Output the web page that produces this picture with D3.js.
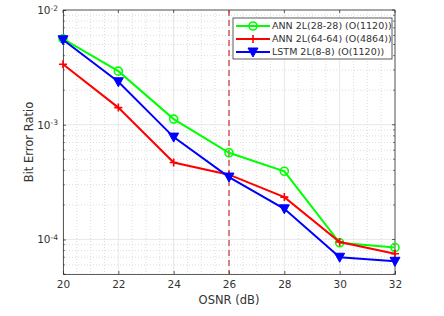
<!DOCTYPE html>
<html>
<head>
<meta charset="utf-8">
<script src="https://cdn.jsdelivr.net/npm/d3@7"></script>
<style>
  body { margin: 0; background: #fff; }
  text { font-family: "DejaVu Sans", sans-serif; fill: #333; }
</style>
</head>
<body>
<script>
// --- data ---
const osnr = [20, 22, 24, 26, 28, 30, 32];
const annSmall = [5.6e-3, 2.93e-3, 1.12e-3, 5.7e-4, 3.93e-4, 9.35e-5, 8.5e-5];
const annLarge = [3.37e-3, 1.41e-3, 4.68e-4, 3.67e-4, 2.34e-4, 9.5e-5, 7.5e-5];
const lstm     = [5.5e-3, 2.37e-3, 7.8e-4, 3.5e-4, 1.85e-4, 7.0e-5, 6.45e-5];
const seriesNames = ["ANN 2L(28-28) (O(1120))", "ANN 2L(64-64) (O(4864))", "LSTM 2L(8-8) (O(1120))"];
const xTicks = [20, 22, 24, 26, 28, 30, 32];
const yTicks = [1e-4, 1e-3, 1e-2];
const threshold = 26;

const W = 444, H = 316;
const margin = { left: 63, right: 49, top: 10, bottom: 42 };

const series = [
  { name: seriesNames[0], values: annSmall, color: "#00ff00", marker: "circle" },
  { name: seriesNames[1], values: annLarge, color: "#ff0000", marker: "plus" },
  { name: seriesNames[2], values: lstm,     color: "#0000ff", marker: "tri" }
];

const svg = d3.select("body").append("svg")
  .attr("width", W).attr("height", H);

const x = d3.scaleLinear().domain([20, 32]).range([margin.left, W - margin.right]);
const y = d3.scaleLog().domain([5e-5, 1e-2]).range([H - margin.bottom, margin.top]);

const x0 = x.range()[0], x1 = x.range()[1];
const yb = y.range()[0], yt = y.range()[1];

// ─── GRID ───────────────────────────────────────────
const grid = svg.append("g");
// minor verticals every 0.5
d3.range(20, 32.01, 0.5).filter(v => v % 2 !== 0).forEach(v => {
  grid.append("line")
    .attr("x1", x(v)).attr("x2", x(v)).attr("y1", yt).attr("y2", yb)
    .attr("stroke", "#cfcfcf").attr("stroke-width", 0.7)
    .attr("stroke-dasharray", "1,2");
});
// minor horizontals (log)
[-5, -4, -3].forEach(e => {
  for (let k = 2; k <= 9; k++) {
    const v = k * Math.pow(10, e);
    if (v < 5e-5 || v > 1e-2) continue;
    grid.append("line")
      .attr("x1", x0).attr("x2", x1).attr("y1", y(v)).attr("y2", y(v))
      .attr("stroke", "#cfcfcf").attr("stroke-width", 0.7)
      .attr("stroke-dasharray", "1,2");
  }
});
// major
xTicks.forEach(v => {
  grid.append("line")
    .attr("x1", x(v)).attr("x2", x(v)).attr("y1", yt).attr("y2", yb)
    .attr("stroke", "#e2e2e2").attr("stroke-width", 0.8);
});
yTicks.forEach(v => {
  grid.append("line")
    .attr("x1", x0).attr("x2", x1).attr("y1", y(v)).attr("y2", y(v))
    .attr("stroke", "#e2e2e2").attr("stroke-width", 0.8);
});

// ─── AXES ───────────────────────────────────────────
const xAxis = svg.append("g")
  .attr("transform", `translate(0,${yb})`)
  .call(d3.axisBottom(x).tickValues(xTicks).tickSize(-3).tickPadding(7).tickFormat(d3.format("d")));
const yAxis = svg.append("g")
  .attr("transform", `translate(${x0},0)`)
  .call(d3.axisLeft(y).tickValues(yTicks).tickSize(-3).tickPadding(5).tickFormat(""));

[xAxis, yAxis].forEach(a => {
  a.select(".domain").attr("stroke", "#333").attr("stroke-width", 0.8);
  a.selectAll(".tick line").attr("stroke", "#333").attr("stroke-width", 0.8);
  a.selectAll("text").attr("font-size", 10.5).attr("fill", "#333")
    .attr("font-family", "DejaVu Sans, sans-serif");
});

// log tick labels 10^n
yAxis.selectAll(".tick").each(function(d) {
  const t = d3.select(this).append("text")
    .attr("x", -5).attr("dy", "0.32em")
    .attr("text-anchor", "end").attr("font-size", 10.5).attr("fill", "#333");
  t.append("tspan").text("10");
  t.append("tspan").attr("dy", "-0.45em").attr("font-size", 7.5)
    .text(Math.round(Math.log10(d)).toString());
});

// minor log ticks on y axis
[-5, -4, -3].forEach(e => {
  for (let k = 2; k <= 9; k++) {
    const v = k * Math.pow(10, e);
    if (v < 5e-5 || v > 1e-2) continue;
    svg.append("line").attr("x1", x0).attr("x2", x0 + 2).attr("y1", y(v)).attr("y2", y(v))
      .attr("stroke", "#333").attr("stroke-width", 0.6);
    svg.append("line").attr("x1", x1).attr("x2", x1 - 2).attr("y1", y(v)).attr("y2", y(v))
      .attr("stroke", "#333").attr("stroke-width", 0.6);
  }
});

// box top / right
svg.append("line").attr("x1", x0).attr("x2", x1).attr("y1", yt).attr("y2", yt)
  .attr("stroke", "#333").attr("stroke-width", 0.8);
svg.append("line").attr("x1", x1).attr("x2", x1).attr("y1", yt).attr("y2", yb)
  .attr("stroke", "#333").attr("stroke-width", 0.8);
xTicks.forEach(v => {
  svg.append("line").attr("x1", x(v)).attr("x2", x(v)).attr("y1", yt).attr("y2", yt + 3)
    .attr("stroke", "#333").attr("stroke-width", 0.8);
});
yTicks.forEach(v => {
  svg.append("line").attr("x1", x1).attr("x2", x1 - 3).attr("y1", y(v)).attr("y2", y(v))
    .attr("stroke", "#333").attr("stroke-width", 0.8);
});

// labels
svg.append("text").attr("x", (x0 + x1) / 2).attr("y", 304)
  .attr("text-anchor", "middle").attr("font-size", 11.5).text("OSNR (dB)");
svg.append("text")
  .attr("transform", `translate(33,${(yt + yb) / 2}) rotate(-90)`)
  .attr("text-anchor", "middle").attr("font-size", 11.5).text("Bit Error Ratio");

// threshold line
svg.append("line")
  .attr("x1", x(threshold)).attr("x2", x(threshold)).attr("y1", yt).attr("y2", yb)
  .attr("stroke", "#c8323c").attr("stroke-width", 1.2).attr("stroke-dasharray", "6,4");

// ─── SERIES ─────────────────────────────────────────
const line = d3.line().x(d => x(d[0])).y(d => y(d[1]));

function drawMarker(g, m, color, cx, cy) {
  if (m === "circle") {
    g.append("circle").attr("cx", cx).attr("cy", cy).attr("r", 4)
      .attr("fill", "none").attr("stroke", color).attr("stroke-width", 1.6);
  } else if (m === "plus") {
    g.append("path").attr("d", `M${cx - 4},${cy}H${cx + 4}M${cx},${cy - 4}V${cy + 4}`)
      .attr("stroke", color).attr("stroke-width", 1.6);
  } else {
    g.append("path").attr("d", `M${cx - 5},${cy - 4}L${cx + 5},${cy - 4}L${cx},${cy + 5}Z`)
      .attr("fill", color).attr("stroke", color).attr("stroke-width", 1);
  }
}

series.forEach(s => {
  const pts = osnr.map((v, i) => [v, s.values[i]]);
  const g = svg.append("g");
  g.append("path").datum(pts).attr("d", line)
    .attr("fill", "none").attr("stroke", s.color).attr("stroke-width", 2);
  pts.forEach(p => drawMarker(g, s.marker, s.color, x(p[0]), y(p[1])));
});

// ─── LEGEND ─────────────────────────────────────────
const lg = svg.append("g").attr("transform", "translate(233,18)");
lg.append("rect").attr("width", 159).attr("height", 41)
  .attr("fill", "#fff").attr("stroke", "#333").attr("stroke-width", 0.8);
series.forEach((s, i) => {
  const ly = 8 + i * 13;
  lg.append("line").attr("x1", 3).attr("x2", 37).attr("y1", ly).attr("y2", ly)
    .attr("stroke", s.color).attr("stroke-width", 2);
  drawMarker(lg, s.marker, s.color, 20, ly);
  lg.append("text").attr("x", 39).attr("y", ly).attr("dy", "0.35em")
    .attr("font-size", 9.5).text(s.name);
});
</script>
</body>
</html>
